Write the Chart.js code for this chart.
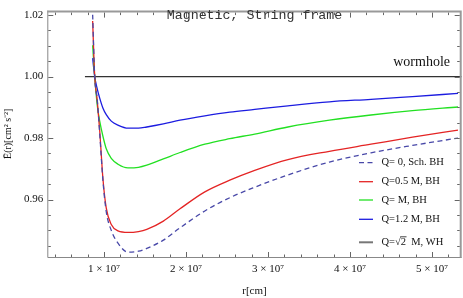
<!DOCTYPE html>
<html>
<head>
<meta charset="utf-8">
<script src="https://cdn.jsdelivr.net/npm/chart.js@4.4.1/dist/chart.umd.min.js"></script>
<style>
  html, body { margin: 0; padding: 0; background: #fff; }
  canvas { display: block; }
</style>
</head>
<body>
<canvas id="energyChart" width="463" height="298"></canvas>
<script>
// radius samples, cm
const rValues = [0.862e7, 0.887e7, 0.918e7, 0.948e7, 0.988e7, 1.028e7, 1.089e7, 1.171e7, 1.293e7, 1.421e7,
                 1.522e7, 1.724e7, 1.927e7, 2.230e7, 2.534e7, 2.838e7, 3.243e7, 3.749e7, 4.256e7, 4.762e7, 5.317e7];

// E(r) per charge
const schValues = [1.0201, 1.000, 0.9925, 0.9815, 0.9660, 0.9560, 0.9500, 0.9458, 0.9429, 0.9432,
                   0.9441, 0.9468, 0.9508, 0.9563, 0.9606, 0.9640, 0.9680, 0.9722, 0.9752, 0.9776, 0.9800];
const q05Values = [1.0181, 1.000, 0.9922, 0.9824, 0.9666, 0.9572, 0.9519, 0.9498, 0.9493, 0.9496,
                   0.9503, 0.9530, 0.9570, 0.9625, 0.9663, 0.9695, 0.9730, 0.9757, 0.9780, 0.9803, 0.9826];
const q1Values  = [1.0102, 1.000, 0.9907, 0.9855, 0.9805, 0.9765, 0.9734, 0.9715, 0.9703, 0.9705,
                   0.9712, 0.9732, 0.9753, 0.9780, 0.9798, 0.9813, 0.9836, 0.9858, 0.9875, 0.9889, 0.9901];
const q12Values = [1.0060, 1.000, 0.9960, 0.9930, 0.9897, 0.9876, 0.9855, 0.9842, 0.9832, 0.9832,
                   0.9836, 0.9846, 0.9858, 0.9872, 0.9884, 0.9893, 0.9905, 0.9918, 0.9926, 0.9935, 0.9945];

// wormhole (Q = sqrt2 M) line
const whR = [0.768e7, 5.362e7];
const whValues = [1.0, 1.0];

const legendLabels = ["Q= 0, Sch. BH", "Q=0.5 M, BH", "Q= M, BH", "Q=1.2 M, BH", "Q=\u221A2  M, WH"];

// axis ticks
const xTickValues = [1e7, 2e7, 3e7, 4e7, 5e7];
const yTickValues = [0.96, 0.98, 1.00, 1.02];
const xRange = [0.309e7, 5.362e7];
const yRange = [0.94132, 1.02145];

function toPoints(xs, ys) {
    return xs.map((x, i) => ({ x: x, y: ys[i] }));
}

const serif = "'Liberation Serif', 'Times New Roman', serif";

// frame, inward ticks, title, wormhole label and legend
const framePlugin = {
    id: "frame",
    afterDraw(chart) {
        const ctx = chart.ctx;
        const a = chart.chartArea;
        const xs = chart.scales.x, ys = chart.scales.y;
        ctx.save();

        ctx.strokeStyle = "#888";
        ctx.lineWidth = 1;
        ctx.beginPath();
        ctx.moveTo(a.left + 0.5, a.top);
        ctx.lineTo(a.left + 0.5, a.bottom + 0.5);
        ctx.lineTo(a.right, a.bottom + 0.5);
        ctx.stroke();
        ctx.strokeStyle = "#999";
        ctx.lineWidth = 2;
        ctx.beginPath();
        ctx.moveTo(a.left, a.top + 1);
        ctx.lineTo(a.right - 1, a.top + 1);
        ctx.lineTo(a.right - 1, a.bottom + 0.5);
        ctx.stroke();

        ctx.strokeStyle = "#666";
        ctx.lineWidth = 1;
        ctx.beginPath();
        for (let i = 2; i <= 26; i++) {
            const v = i * 0.2e7;
            const px = Math.round(xs.getPixelForValue(v)) + 0.5;
            if (px < a.left + 1 || px > a.right - 2) continue;
            const len = (i % 5 === 0) ? 5 : 2.5;
            ctx.moveTo(px, a.bottom);
            ctx.lineTo(px, a.bottom - len);
            ctx.moveTo(px, a.top + 2);
            ctx.lineTo(px, a.top + 2 + len);
        }
        for (let i = 0; i <= 16; i++) {
            const v = 0.945 + i * 0.005;
            const py = Math.round(ys.getPixelForValue(v)) + 0.5;
            if (py < a.top + 1 || py > a.bottom - 1) continue;
            const len = (i % 4 === 3) ? 5 : 2.5;
            ctx.moveTo(a.left + 1, py);
            ctx.lineTo(a.left + 1 + len, py);
            ctx.moveTo(a.right - 2, py);
            ctx.lineTo(a.right - 2 - len, py);
        }
        ctx.stroke();

        // plot label
        ctx.fillStyle = "#333";
        ctx.font = "13.3px 'Liberation Mono', 'Courier New', monospace";
        ctx.textAlign = "center";
        ctx.textBaseline = "alphabetic";
        ctx.fillText("Magnetic, String frame", 254.5, 18.5);

        // wormhole label
        ctx.fillStyle = "#111";
        ctx.font = "14px " + serif;
        ctx.textAlign = "right";
        ctx.fillText("wormhole", 450, 65.5);

        // legend
        const rows = [162.7, 181.7, 200, 219.3, 242.3];
        const textX = 381.5;
        ctx.font = "10.5px " + serif;
        ctx.textAlign = "left";
        ctx.textBaseline = "middle";
        chart.data.datasets.forEach((ds, i) => {
            const y = rows[i];
            ctx.strokeStyle = i === 4 ? "#777" : ds.borderColor;
            ctx.lineWidth = i === 4 ? 2 : 1.3;
            ctx.setLineDash(ds.borderDash || []);
            ctx.beginPath();
            ctx.moveTo(359, y);
            ctx.lineTo(373, y);
            ctx.stroke();
            ctx.setLineDash([]);
            ctx.fillStyle = "#111";
            ctx.fillText(legendLabels[i], textX, y);
        });
        // radical bar over the 2
        const x0 = textX + ctx.measureText("Q=\u221A").width;
        const w2 = ctx.measureText("2").width;
        ctx.strokeStyle = "#111";
        ctx.lineWidth = 0.8;
        ctx.beginPath();
        ctx.moveTo(x0 - 0.5, rows[4] - 5.5);
        ctx.lineTo(x0 + w2 + 0.5, rows[4] - 5.5);
        ctx.stroke();

        ctx.restore();
    }
};

new Chart(document.getElementById("energyChart"), {
    type: "line",
    data: {
        datasets: [
            { data: toPoints(rValues, schValues), borderColor: "#4848a8", borderDash: [5, 3.5], borderWidth: 1.3 },
            { data: toPoints(rValues, q05Values), borderColor: "#e42424", borderWidth: 1.3 },
            { data: toPoints(rValues, q1Values), borderColor: "#22e022", borderWidth: 1.3 },
            { data: toPoints(rValues, q12Values), borderColor: "#1c1ce0", borderWidth: 1.3 },
            { data: toPoints(whR, whValues), borderColor: "#333", borderWidth: 1.3, cubicInterpolationMode: "default" }
        ]
    },
    options: {
        responsive: false,
        animation: false,
        events: [],
        layout: { padding: { top: 2.7, right: 1.3, left: 0, bottom: 0 } },
        elements: {
            point: { radius: 0 },
            line: { cubicInterpolationMode: "monotone", fill: false }
        },
        plugins: {
            legend: { display: false },
            tooltip: { enabled: false }
        },
        scales: {
            x: {
                type: "linear",
                min: xRange[0],
                max: xRange[1],
                afterFit: s => { s.height = 41; },
                afterBuildTicks: s => { s.ticks = xTickValues.map(v => ({ value: v })); },
                grid: { display: false, drawTicks: false },
                border: { display: false },
                ticks: {
                    padding: 6,
                    color: "#111",
                    font: { family: serif, size: 11 },
                    maxRotation: 0,
                    callback: v => Math.round(v / 1e7) + " \u00D7 10\u2077"
                },
                title: {
                    display: true,
                    text: "r[cm]",
                    color: "#111",
                    font: { family: serif, size: 11 },
                    padding: { top: 0, bottom: 0 }
                }
            },
            y: {
                min: yRange[0],
                max: yRange[1],
                afterFit: s => { s.width = 47.3; },
                afterBuildTicks: s => { s.ticks = yTickValues.map(v => ({ value: v })); },
                grid: { display: false, drawTicks: false },
                border: { display: false },
                ticks: {
                    padding: 4,
                    color: "#111",
                    font: { family: serif, size: 11 },
                    callback: v => v.toFixed(2)
                },
                title: {
                    display: true,
                    text: "\u0112(r)[cm\u00B2 s\u207B\u00B2]",
                    color: "#111",
                    font: { family: serif, size: 10 },
                    padding: { top: 2, bottom: 0 }
                }
            }
        }
    },
    plugins: [framePlugin]
});
</script>
</body>
</html>
